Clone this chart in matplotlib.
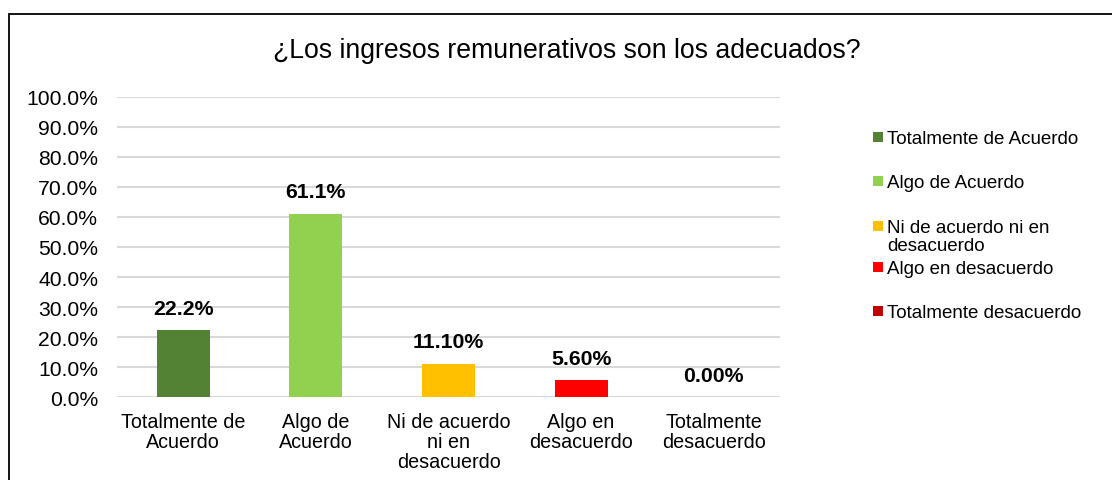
import matplotlib
matplotlib.use("Agg")
import matplotlib.pyplot as plt
from matplotlib.patches import Rectangle

plt.rcParams['font.family'] = ['Liberation Sans', 'DejaVu Sans']

title = "¿Los ingresos remunerativos son los adecuados?"
categories = ["Totalmente de Acuerdo", "Algo de Acuerdo", "Ni de acuerdo ni en desacuerdo",
              "Algo en desacuerdo", "Totalmente desacuerdo"]
tick_labels = ["Totalmente de\nAcuerdo", "Algo de\nAcuerdo", "Ni de acuerdo\nni en\ndesacuerdo",
               "Algo en\ndesacuerdo", "Totalmente\ndesacuerdo"]
legend_labels = ["Totalmente de Acuerdo", "Algo de Acuerdo", "Ni de acuerdo ni en\ndesacuerdo",
                 "Algo en desacuerdo", "Totalmente desacuerdo"]
values = [22.2, 61.1, 11.10, 5.60, 0.00]
value_labels = ["22.2%", "61.1%", "11.10%", "5.60%", "0.00%"]
colors = ["#548235", "#92D050", "#FFC000", "#FF0000", "#C00000"]
yticks = [0, 10, 20, 30, 40, 50, 60, 70, 80, 90, 100]

W, H = 1112, 481
fig = plt.figure(figsize=(W/100, H/100), dpi=100)

# outer frame
fig.patches.append(Rectangle((8.5/W, -0.2), 1.2, 0.2 + 1 - 14.5/H, transform=fig.transFigure,
                             fill=False, edgecolor="#000000", linewidth=1.3))

ax = fig.add_axes([117/W, 1 - 398/H, (780 - 117)/W, (398 - 98)/H])
x = list(range(len(categories)))
ax.bar(x, values, width=0.4, color=colors, zorder=3)
ax.set_xlim(-0.5, len(categories) - 0.5)
ax.set_ylim(0, 100)
ax.set_yticks(yticks)
ax.set_yticklabels([f"{v:.1f}%" for v in yticks], fontsize=15.2, color="#000000")
ax.set_xticks(x)
ax.set_xticklabels(tick_labels, fontsize=14.2, color="#000000", linespacing=1.05)
ax.tick_params(axis='x', length=0, pad=11)
ax.tick_params(axis='y', length=0, pad=13.5)
ax.grid(axis='y', color="#D9D9D9", linewidth=1.5, zorder=0)
for s in ax.spines.values():
    s.set_visible(False)

for xi, v, lab in zip(x, values, value_labels):
    ax.annotate(lab, (xi, v), xytext=(0, 9), textcoords="offset points",
                ha="center", va="bottom", fontsize=15.3, fontweight="bold")

fig.text(567/W, 1 - 51/H, title, ha="center", va="center", fontsize=19.2)

# legend (manual placement to match the original spacing)
leg_y = [138, 182, 227, 268, 312]
for lab, c, yy in zip(legend_labels, colors, leg_y):
    fig.patches.append(Rectangle((873/W, 1 - (yy + 5)/H), 10/W, 10/H,
                                 transform=fig.transFigure, facecolor=c, edgecolor="none"))
    fig.text(887/W, 1 - (yy - 7)/H, lab, ha="left", va="top", fontsize=13.5,
             linespacing=1.1)

fig.savefig("out.png", dpi=100)
